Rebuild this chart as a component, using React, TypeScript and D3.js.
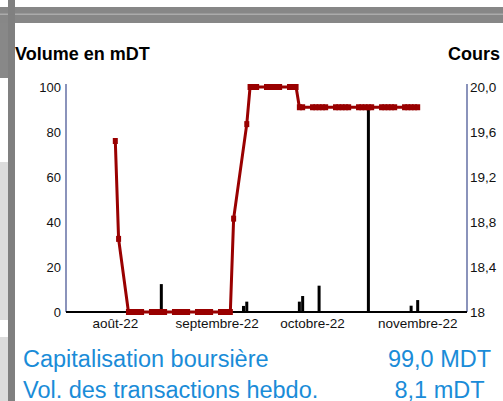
import React from 'react';
import * as d3 from 'd3';

const W = 503, H = 401;

// cours (DT), right axis
const coursDates = [
  '2022-08-18', '2022-08-19',
  '2022-08-22', '2022-08-23', '2022-08-24', '2022-08-25', '2022-08-26',
  '2022-08-29', '2022-08-30', '2022-08-31', '2022-09-01', '2022-09-02',
  '2022-09-05', '2022-09-06', '2022-09-07', '2022-09-08', '2022-09-09',
  '2022-09-12', '2022-09-13', '2022-09-14', '2022-09-15', '2022-09-16',
  '2022-09-19', '2022-09-20', '2022-09-21', '2022-09-22', '2022-09-23',
  '2022-09-27', '2022-09-28', '2022-09-29', '2022-09-30',
  '2022-10-03', '2022-10-04', '2022-10-05', '2022-10-06', '2022-10-07',
  '2022-10-10', '2022-10-11', '2022-10-12', '2022-10-13', '2022-10-14',
  '2022-10-17', '2022-10-18', '2022-10-19', '2022-10-20', '2022-10-21',
  '2022-10-24', '2022-10-25', '2022-10-26', '2022-10-27', '2022-10-28',
  '2022-10-31', '2022-11-01', '2022-11-02', '2022-11-03', '2022-11-04',
  '2022-11-07', '2022-11-08', '2022-11-09', '2022-11-10', '2022-11-11',
  '2022-11-14', '2022-11-15', '2022-11-16', '2022-11-17', '2022-11-18',
];
const coursValues = [
  19.52, 18.65,
  18.0, 18.0, 18.0, 18.0, 18.0,
  18.0, 18.0, 18.0, 18.0, 18.0,
  18.0, 18.0, 18.0, 18.0, 18.0,
  18.0, 18.0, 18.0, 18.0, 18.0,
  18.0, 18.0, 18.0, 18.0, 18.83,
  19.67, 20.0, 20.0, 20.0,
  20.0, 20.0, 20.0, 20.0, 20.0,
  20.0, 20.0, 20.0, 19.82, 19.82,
  19.82, 19.82, 19.82, 19.82, 19.82,
  19.82, 19.82, 19.82, 19.82, 19.82,
  19.82, 19.82, 19.82, 19.82, 19.82,
  19.82, 19.82, 19.82, 19.82, 19.82,
  19.82, 19.82, 19.82, 19.82, 19.82,
];

// volume (mDT), left axis
const volumeDates = [
  '2022-09-01', '2022-09-26', '2022-09-27', '2022-10-13', '2022-10-14',
  '2022-10-19', '2022-11-03', '2022-11-16', '2022-11-18',
];
const volumeValues = [12.4, 2.7, 4.6, 4.6, 7.1, 11.7, 90, 2.8, 5.3];

const leftTicks = [0, 20, 40, 60, 80, 100];
const rightTicks = [18, 18.4, 18.8, 19.2, 19.6, 20];
const rightTickLabels = ['18', '18,4', '18,8', '19,2', '19,6', '20,0'];
const monthDates = ['2022-08-18', '2022-09-18', '2022-10-17', '2022-11-18'];
const monthLabels = ['août-22', 'septembre-22', 'octobre-22', 'novembre-22'];
const infoLabels = ['Capitalisation boursière', 'Vol. des transactions hebdo.'];
const infoValues = ['99,0 MDT', '8,1 mDT'];

const FONT = 'Liberation Sans, Arial, sans-serif';
const RED = '#990000';
const AXIS_BLUE = '#3d4b8e';
const INFO_BLUE = '#1a8cd8';

export default function App() {
  const parse = d3.timeParse('%Y-%m-%d');

  const x = d3.scaleTime()
    .domain([parse('2022-08-03'), parse('2022-12-03')])
    .range([66, 467]);
  const yVol = d3.scaleLinear().domain([0, 100]).range([312, 87]);
  const yCours = d3.scaleLinear().domain([18, 20]).range([312, 87]);

  const cours = coursDates.map((d, i) => ({ date: parse(d), value: coursValues[i] }));
  const volume = volumeDates.map((d, i) => ({ date: parse(d), value: volumeValues[i] }));

  const line = d3.line()
    .x((d) => x(d.date))
    .y((d) => yCours(d.value));

  const barW = 3;
  const [x0, x1] = x.range();

  return (
    <div style={{ position: 'absolute', left: 0, top: 0 }}>
      <svg width={W} height={H} style={{ display: 'block' }} fontFamily={FONT}>
        <rect width={W} height={H} fill="#fff" />

        {/* page chrome around the chart */}
        <rect x={0} y={23} width={8} height={55} fill="#888" />
        <rect x={0} y={162} width={8} height={158} fill="#dcdcdc" />
        <rect x={0} y={337} width={8} height={64} fill="#dcdcdc" />
        <rect x={0} y={7} width={W} height={16} fill="#878787" />
        <rect x={0} y={13.5} width={W} height={1.5} fill="#ababab" />
        <rect x={8} y={0} width={7} height={H} fill="#808080" />

        {/* titles */}
        <text x={15} y={60} fontSize={18} fontWeight="bold" fill="#000">Volume en mDT</text>
        <text x={500} y={60} fontSize={18} fontWeight="bold" fill="#000" textAnchor="end">Cours</text>

        {/* axes */}
        <line x1={x0} x2={x0} y1={yVol(100) - 3} y2={yVol(0)} stroke={AXIS_BLUE} strokeWidth={1.2} />
        <line x1={x1} x2={x1} y1={yCours(20) - 3} y2={yCours(18)} stroke={AXIS_BLUE} strokeWidth={1.2} />

        {leftTicks.map((t) => (
          <text key={t} x={61} y={yVol(t)} dy="0.35em" fontSize={13} textAnchor="end" fill="#111">{t}</text>
        ))}
        {rightTicks.map((t, i) => (
          <text key={t} x={470} y={yCours(t)} dy="0.35em" fontSize={13.5} fill="#111">{rightTickLabels[i]}</text>
        ))}
        {monthDates.map((d, i) => (
          <text key={d} x={x(parse(d))} y={328} fontSize={13.5} textAnchor="middle" fill="#111">{monthLabels[i]}</text>
        ))}

        {/* volume bars */}
        {volume.map((d, i) => (
          <rect key={i} x={x(d.date) - barW / 2} y={yVol(d.value)} width={barW}
            height={yVol(0) - yVol(d.value)} fill="#000" />
        ))}

        <line x1={x0} x2={x1} y1={yVol(0)} y2={yVol(0)} stroke="#000" strokeWidth={2} />

        {/* cours line */}
        <path d={line(cours)} fill="none" stroke={RED} strokeWidth={3} strokeLinejoin="round" />
        {cours.map((d, i) => (
          <rect key={i} x={x(d.date) - 2.5} y={yCours(d.value) - 3} width={5} height={6} fill={RED} />
        ))}

        {/* info lines */}
        {infoLabels.map((t, i) => (
          <g key={t}>
            <text x={23} y={367 + i * 31} fontSize={23.5} fill={INFO_BLUE}>{t}</text>
            <text x={439.5} y={367 + i * 31} fontSize={23.5} fill={INFO_BLUE} textAnchor="middle">{infoValues[i]}</text>
          </g>
        ))}
      </svg>
    </div>
  );
}
